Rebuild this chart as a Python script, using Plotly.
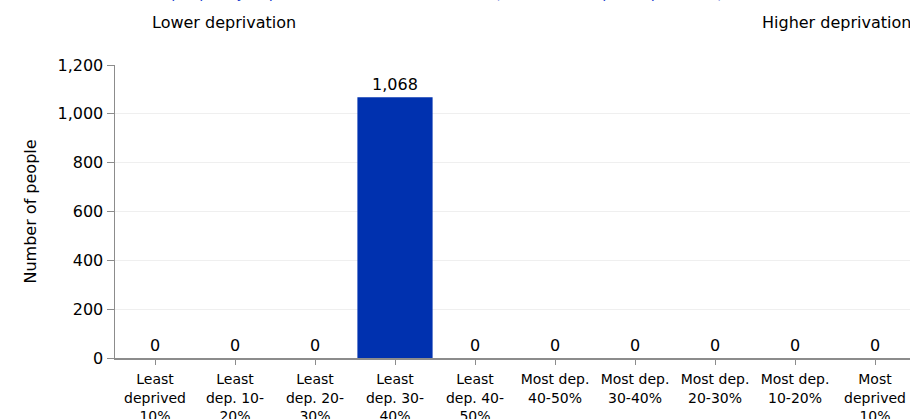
import plotly.graph_objects as go

categories = [
    "Least<br>deprived<br>10%",
    "Least<br>dep. 10-<br>20%",
    "Least<br>dep. 20-<br>30%",
    "Least<br>dep. 30-<br>40%",
    "Least<br>dep. 40-<br>50%",
    "Most dep.<br>40-50%",
    "Most dep.<br>30-40%",
    "Most dep.<br>20-30%",
    "Most dep.<br>10-20%",
    "Most<br>deprived<br>10%",
]
people = [0, 0, 0, 1068, 0, 0, 0, 0, 0, 0]
y_ticks = [0, 200, 400, 600, 800, 1000, 1200]

title_text = "Number of people by deprivation of area of residence (Index of Multiple Deprivation)"

FONT = "DejaVu Sans"
AXIS_GREY = "#8c8c8c"

fig = go.Figure()
fig.add_trace(go.Bar(
    x=list(range(len(categories))),
    y=people,
    marker=dict(color="#0031AF", line=dict(width=0)),
    text=[f"{v:,}" for v in people],
    textposition="outside",
    textfont=dict(family=FONT, size=16, color="#000000"),
    cliponaxis=False,
    width=0.94,
    hoverinfo="skip",
))

fig.update_layout(
    width=910,
    height=419,
    margin=dict(l=115, r=0, t=65, b=61, autoexpand=False),
    paper_bgcolor="white",
    plot_bgcolor="white",
    showlegend=False,
    font=dict(family=FONT, size=16, color="#000000"),
    xaxis=dict(
        tickmode="array",
        tickvals=list(range(len(categories))),
        ticktext=categories,
        range=[-0.5, 9.4375],
        showline=True,
        linecolor=AXIS_GREY,
        linewidth=1.5,
        ticks="outside",
        tickson="boundaries",
        ticklen=5,
        tickcolor=AXIS_GREY,
        showgrid=False,
        tickfont=dict(family=FONT, size=14, color="#000000"),
        tickangle=0,
        ticklabelstandoff=3,
        automargin=False,
    ),
    yaxis=dict(
        range=[0, 1200],
        tickmode="array",
        tickvals=y_ticks,
        ticktext=[f"{v:,}" for v in y_ticks],
        showline=True,
        linecolor=AXIS_GREY,
        linewidth=1.5,
        ticks="outside",
        ticklen=7,
        tickcolor=AXIS_GREY,
        showgrid=True,
        gridcolor="#efefef",
        gridwidth=1,
        zeroline=False,
        automargin=False,
        tickfont=dict(family=FONT, size=16, color="#000000"),
    ),
    annotations=[
        dict(text="Number of people", textangle=-90, xref="paper", yref="paper",
             x=0, y=0.5, xanchor="center", yanchor="middle", xshift=-85,
             showarrow=False, font=dict(family=FONT, size=16, color="#000000")),
        dict(text="Lower deprivation", xref="paper", yref="paper",
             x=0, y=1, xanchor="left", yanchor="middle", xshift=35, yshift=43,
             showarrow=False, font=dict(family=FONT, size=16, color="#000000")),
        dict(text="Higher deprivation", xref="paper", yref="paper",
             x=0, y=1, xanchor="left", yanchor="middle", xshift=645, yshift=43,
             showarrow=False, font=dict(family=FONT, size=16, color="#000000")),
        dict(text=title_text,
             xref="paper", yref="paper",
             x=0, y=1, xanchor="left", yanchor="bottom", xshift=-30, yshift=61,
             showarrow=False, font=dict(family=FONT, size=15, color="#1a3fd0")),
    ],
)

fig.write_html(
    "out.html",
    config={"displayModeBar": False, "staticPlot": True},
    post_script="document.body.style.margin='0';document.body.style.overflow='hidden';",
)
